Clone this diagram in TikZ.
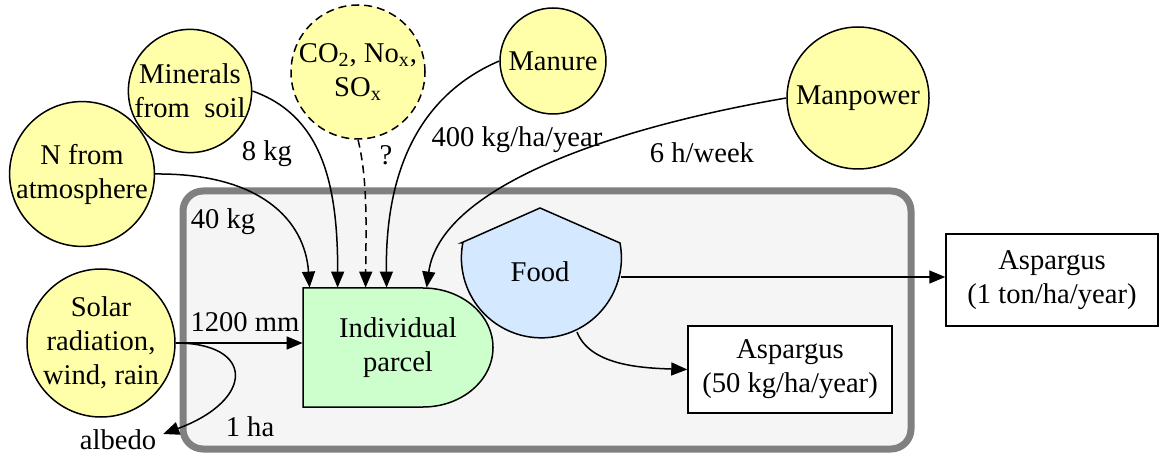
\documentclass[tikz,border=0pt]{standalone}
\usepackage{fontspec}
\setmainfont{Liberation Serif}
\usetikzlibrary{arrows.meta,calc}

\definecolor{srcfill}{RGB}{255,255,170}
\definecolor{parcelfill}{RGB}{204,255,204}
\definecolor{foodfill}{RGB}{212,232,255}
\definecolor{areafill}{RGB}{245,245,245}
\definecolor{areaframe}{RGB}{128,128,128}

\begin{document}
\begin{tikzpicture}[x=0.5pt,y=-0.5pt,>={Triangle[length=8pt,width=6.5pt]},
	every node/.style={font=\fontsize{14.3}{17}\selectfont,align=center},
	src/.style={circle,draw,fill=srcfill,inner sep=0pt,line width=0.75pt},
	flow/.style={->,line width=0.75pt},
	outbox/.style={draw,fill=white,inner sep=0pt,line width=0.75pt}]
				\useasboundingbox (0,0) rectangle (1161,459);

				% the parcel area
				\draw[line width=3.5pt,draw=areaframe,fill=areafill,rounded corners=10pt]
					(183,191) rectangle (911,449);

				\draw[line width=0.75pt,fill=parcelfill] (303,288)
					-- (423,288)
					arc[start angle=-90,end angle=90,x radius=70,y radius=59.5]
					-- (303,407) -- cycle;
				\node[minimum width=95pt,minimum height=59.5pt,inner sep=0pt] (parcel) at (398,347.5) {Individual\\parcel};

				\draw[line width=0.75pt,fill=foodfill] (461,243)
					-- (540,208)
					-- (620,243)
					arc[start angle=-10.7,end angle=190.7,radius=80] -- cycle;
				\node (food) at (540,272) {Food};
				\coordinate (foodR) at (621,277);
				\coordinate (foodB) at (577,332);

				% inputs
				\node[src,minimum size=72pt] (natm) at (82,174) {N from\\atmosphere};
				\node[src,minimum size=61pt] (minr) at (190,91) {Minerals\\from\ \ soil};
				\node[src,dash pattern=on 4pt off 2.5pt,minimum size=67pt] (gas) at (358,72) {CO\textsubscript{2}, No\textsubscript{x},\\SO\textsubscript{x}};
				\node[src,minimum size=53pt] (manure) at (553,61) {Manure};
				\node[src,minimum size=71pt] (manpw) at (858,98) {Manpower};
				\node[src,minimum size=74pt] (solar) at (101,343) {Solar\\radiation,\\wind, rain};

				% outputs
				\node[outbox,minimum width=106pt,minimum height=46pt] (aspout) at (1052,280) {Aspargus\\(1 ton/ha/year)};
				\node[outbox,minimum width=102pt,minimum height=43.5pt] (aspin) at (790,369.5) {Aspargus\\(50 kg/ha/year)};
				\node (albedo) at (118,440) {albedo};

				\path (267,154) node (l8) {8 kg};
				\path (223,222) node (l40) {40 kg};
				\path (386,155) node (lq) {?};
				\path (517,140) node (l400) {400 kg/ha/year};
				\path (702,153) node (l6h) {6 h/week};
				\path (245,322) node (l1200) {1200 mm};
				\path (250,427) node (l1ha) {1 ha};

				\draw[flow] (natm.east) .. controls (260,173) and (305,220) .. ($(parcel.north west)+(7,0)$);
				\draw[flow] (minr.east) .. controls (320,115) and (338,180) .. ($(parcel.north west)+(35,0)$);
				\draw[flow,dash pattern=on 4pt off 2.5pt] (gas.south) .. controls (368,180) and (366,230) .. ($(parcel.north west)+(63,0)$);
				\draw[flow] (manure.west) .. controls (420,95) and (385,170) .. ($(parcel.north west)+(84,0)$);
				\draw[flow] (manpw.west) .. controls (600,130) and (440,190) .. ($(parcel.north west)+(124,0)$);
				\draw[flow] (solar.east) -- (solar.east -| parcel.west);
				\draw[flow] (solar.east) .. controls (255,343) and (255,400) .. ($(albedo.east)+(0,-6)$);
				\draw[flow] (foodR) -- (foodR -| aspout.west);
				\draw[flow] (foodB) .. controls (590,365) and (640,368) .. (aspin.west);

			\end{tikzpicture}
\end{document}
